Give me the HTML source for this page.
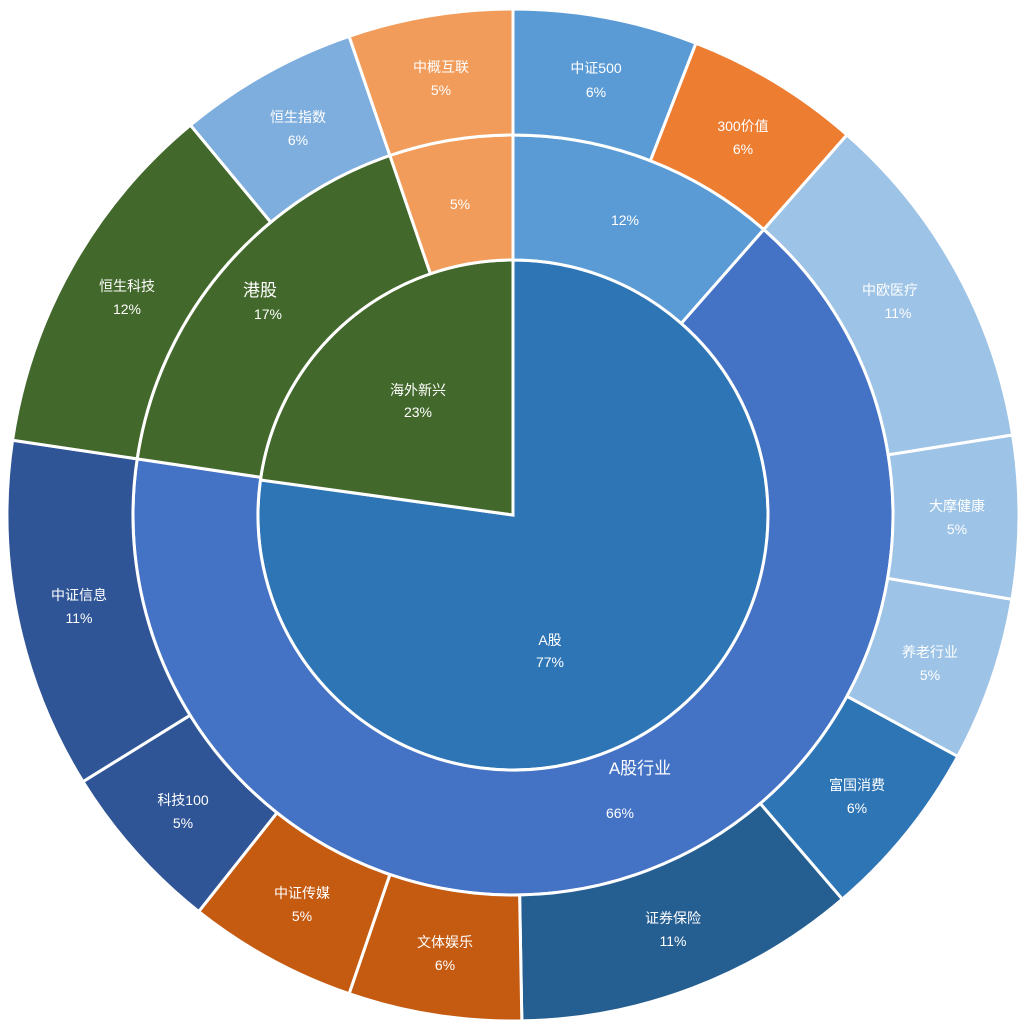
<!DOCTYPE html>
<html><head><meta charset="utf-8"><style>
html,body{margin:0;padding:0;background:#fff;}
svg text{font-family:"Liberation Sans","Noto Sans CJK SC",sans-serif;fill:#fff;font-size:14px;text-anchor:middle;}
</style></head><body>
<svg id="s" width="1024" height="1030" viewBox="0 0 1024 1030" xmlns="http://www.w3.org/2000/svg">
<g id="w"></g>
<text x="418" y="395">海外新兴</text><text x="418" y="417">23%</text>
<text x="550" y="645">A股</text><text x="550" y="667">77%</text>
<text x="625" y="225">12%</text>
<text x="640" y="774" style="font-size:17px">A股行业</text><text x="620" y="818">66%</text>
<text x="260" y="296" style="font-size:17px">港股</text><text x="268" y="319">17%</text>
<text x="460" y="209">5%</text>
<text x="596" y="73">中证500</text><text x="596" y="97">6%</text>
<text x="743" y="131">300价值</text><text x="743" y="154">6%</text>
<text x="890" y="295">中欧医疗</text><text x="898" y="318">11%</text>
<text x="957" y="511">大摩健康</text><text x="957" y="534">5%</text>
<text x="930" y="657">养老行业</text><text x="930" y="680">5%</text>
<text x="857" y="790">富国消费</text><text x="857" y="813">6%</text>
<text x="673" y="923">证券保险</text><text x="673" y="946">11%</text>
<text x="445" y="947">文体娱乐</text><text x="445" y="970">6%</text>
<text x="302" y="898">中证传媒</text><text x="302" y="921">5%</text>
<text x="183" y="805">科技100</text><text x="183" y="828">5%</text>
<text x="79" y="600">中证信息</text><text x="79" y="623">11%</text>
<text x="127" y="291">恒生科技</text><text x="127" y="314">12%</text>
<text x="298" y="122">恒生指数</text><text x="298" y="145">6%</text>
<text x="441" y="72">中概互联</text><text x="441" y="95">5%</text>
</svg>
<script>
var cx=513,cy=515,g=document.getElementById('w');
function pt(r,a){a=a*Math.PI/180;return [cx+r*Math.sin(a),cy-r*Math.cos(a)];}
function wedge(r0,r1,a0,a1,c){
 var l=(a1-a0)>180?1:0,p1=pt(r1,a0),p2=pt(r1,a1),d;
 if(r0==0){d='M'+cx+','+cy+'L'+p1+'A'+r1+','+r1+' 0 '+l+' 1 '+p2+'Z';}
 else{var p3=pt(r0,a1),p4=pt(r0,a0);d='M'+p1+'A'+r1+','+r1+' 0 '+l+' 1 '+p2+'L'+p3+'A'+r0+','+r0+' 0 '+l+' 0 '+p4+'Z';}
 var e=document.createElementNS('http://www.w3.org/2000/svg','path');
 e.setAttribute('d',d);e.setAttribute('fill',c);e.setAttribute('stroke','#fff');e.setAttribute('stroke-width','3');g.appendChild(e);}
function ring(r0,r1,items){var a=0;items.forEach(function(it){var b=it[0];wedge(r0,r1,a,b,it[1]);a=b;});}
ring(0,255,[[277.9,'#2E75B6'],[360,'#43682B']]);
ring(255,380,[[41.3,'#5B9BD5'],[278.5,'#4472C4'],[341.1,'#43682B'],[360,'#F19C5A']]);
ring(380,506,[[21.2,'#5B9BD5'],[41.3,'#ED7D31'],[80.9,'#9DC3E6'],[99.6,'#9DC3E6'],[118.5,'#9DC3E6'],[139.4,'#2E75B6'],[179,'#255E91'],[198.9,'#C55A11'],[218.4,'#C55A11'],[238.2,'#2F5597'],[278.5,'#2F5597'],[320.4,'#43682B'],[341.1,'#7EAEDE'],[360,'#F19C5A']]);
</script>
</body></html>
